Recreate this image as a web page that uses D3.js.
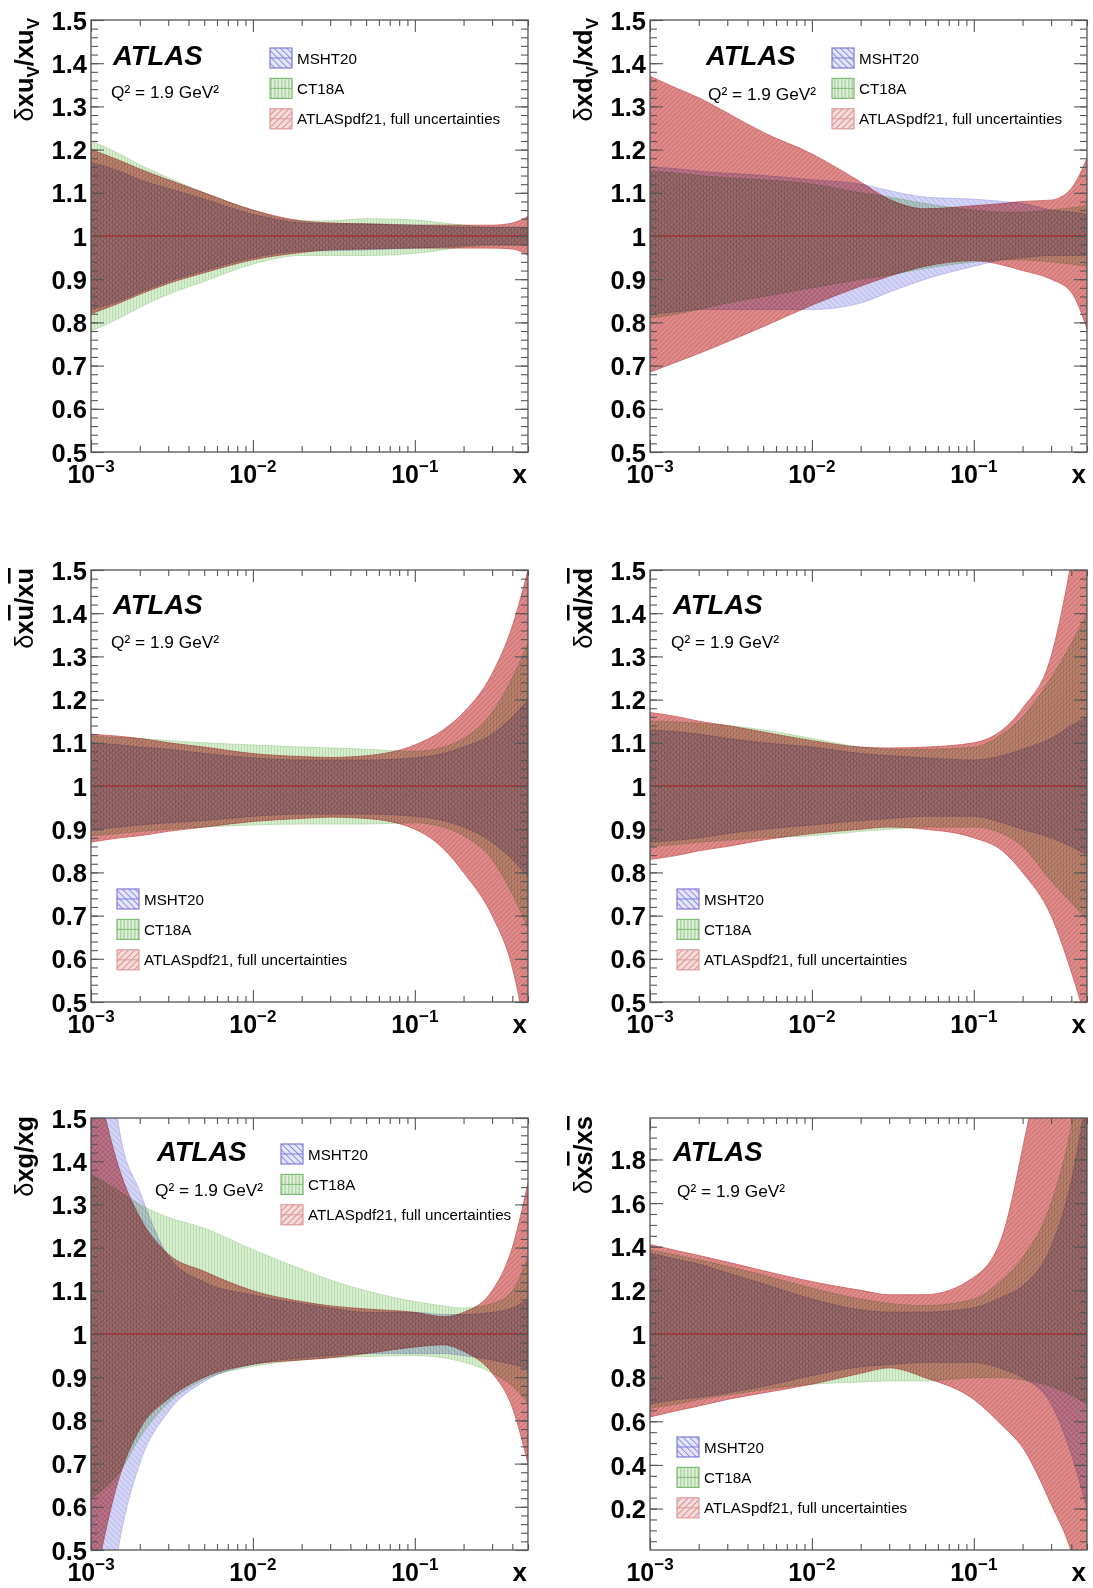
<!DOCTYPE html>
<meta charset="utf-8">
<title>PDF uncertainty comparison</title>
<style>
  body { margin: 0; background: #fff; }
  svg text { font-family: "Liberation Sans", Arial, Helvetica, sans-serif; }
</style>
<div id="viz"></div>
<script src="https://cdnjs.cloudflare.com/ajax/libs/d3/7.8.5/d3.min.js"></script>
<script>

var xs = [0.001, 0.0015, 0.002, 0.003, 0.005, 0.01, 0.02, 0.03, 0.05, 0.1, 0.15, 0.2, 0.3, 0.4, 0.5];

var setNames = ["MSHT20", "CT18A", "ATLASpdf21, full uncertainties"];

// xu_V
var uvMshtHi  = [1.17, 1.15, 1.13, 1.11, 1.085, 1.05, 1.03, 1.028, 1.028, 1.025, 1.022, 1.02, 1.02, 1.02, 1.02];
var uvMshtLo  = [0.83, 0.85, 0.87, 0.895, 0.92, 0.95, 0.965, 0.966, 0.968, 0.972, 0.975, 0.978, 0.98, 0.98, 0.98];
var uvCtHi    = [1.22, 1.19, 1.165, 1.135, 1.10, 1.06, 1.035, 1.035, 1.04, 1.037, 1.03, 1.025, 1.02, 1.02, 1.02];
var uvCtLo    = [0.78, 0.81, 0.835, 0.865, 0.895, 0.935, 0.955, 0.955, 0.955, 0.96, 0.968, 0.975, 0.978, 0.978, 0.978];
var uvAtlasHi = [1.20, 1.175, 1.155, 1.13, 1.10, 1.06, 1.035, 1.03, 1.028, 1.025, 1.025, 1.025, 1.025, 1.03, 1.045];
var uvAtlasLo = [0.82, 0.845, 0.865, 0.89, 0.915, 0.945, 0.962, 0.968, 0.97, 0.972, 0.972, 0.972, 0.972, 0.97, 0.955];

// xd_V
var dvMshtHi  = [1.16, 1.155, 1.15, 1.145, 1.14, 1.13, 1.12, 1.105, 1.09, 1.085, 1.08, 1.075, 1.06, 1.055, 1.05];
var dvMshtLo  = [0.82, 0.825, 0.83, 0.83, 0.83, 0.83, 0.845, 0.87, 0.90, 0.93, 0.945, 0.95, 0.955, 0.955, 0.955];
var dvCtHi    = [1.15, 1.145, 1.14, 1.135, 1.13, 1.12, 1.10, 1.09, 1.075, 1.06, 1.055, 1.055, 1.06, 1.065, 1.07];
var dvCtLo    = [0.81, 0.82, 0.83, 0.845, 0.86, 0.88, 0.90, 0.91, 0.925, 0.94, 0.945, 0.945, 0.94, 0.935, 0.93];
var dvAtlasHi = [1.37, 1.34, 1.32, 1.285, 1.24, 1.19, 1.125, 1.085, 1.063, 1.07, 1.075, 1.08, 1.083, 1.11, 1.18];
var dvAtlasLo = [0.685, 0.71, 0.728, 0.755, 0.79, 0.84, 0.884, 0.907, 0.93, 0.943, 0.933, 0.92, 0.90, 0.87, 0.785];

// x ubar
var ubMshtHi  = [1.10, 1.095, 1.09, 1.085, 1.075, 1.065, 1.06, 1.06, 1.06, 1.065, 1.075, 1.09, 1.12, 1.16, 1.20];
var ubMshtLo  = [0.90, 0.905, 0.91, 0.915, 0.92, 0.93, 0.935, 0.935, 0.935, 0.93, 0.92, 0.905, 0.87, 0.83, 0.79];
var ubCtHi    = [1.115, 1.112, 1.11, 1.105, 1.10, 1.095, 1.09, 1.088, 1.085, 1.08, 1.09, 1.11, 1.17, 1.25, 1.33];
var ubCtLo    = [0.885, 0.89, 0.895, 0.90, 0.905, 0.91, 0.912, 0.912, 0.912, 0.915, 0.905, 0.885, 0.83, 0.75, 0.67];
var ubAtlasHi = [1.12, 1.115, 1.11, 1.10, 1.09, 1.075, 1.068, 1.066, 1.07, 1.095, 1.13, 1.17, 1.26, 1.37, 1.50];
var ubAtlasLo = [0.87, 0.88, 0.885, 0.895, 0.905, 0.918, 0.925, 0.928, 0.925, 0.90, 0.855, 0.80, 0.70, 0.58, 0.40];

// x dbar
var dbMshtHi  = [1.13, 1.125, 1.12, 1.11, 1.10, 1.09, 1.075, 1.07, 1.065, 1.06, 1.07, 1.085, 1.11, 1.14, 1.16];
var dbMshtLo  = [0.87, 0.875, 0.88, 0.89, 0.90, 0.91, 0.92, 0.925, 0.93, 0.93, 0.915, 0.90, 0.88, 0.86, 0.84];
var dbCtHi    = [1.15, 1.148, 1.145, 1.14, 1.13, 1.11, 1.09, 1.085, 1.085, 1.09, 1.12, 1.16, 1.25, 1.33, 1.40];
var dbCtLo    = [0.86, 0.865, 0.87, 0.875, 0.88, 0.885, 0.895, 0.90, 0.905, 0.905, 0.89, 0.86, 0.78, 0.73, 0.69];
var dbAtlasHi = [1.17, 1.16, 1.15, 1.14, 1.125, 1.105, 1.09, 1.088, 1.09, 1.10, 1.13, 1.18, 1.30, 1.52, 1.75];
var dbAtlasLo = [0.83, 0.84, 0.85, 0.86, 0.875, 0.89, 0.90, 0.905, 0.90, 0.88, 0.85, 0.80, 0.70, 0.57, 0.45];

// xg
var gMshtHi  = [2.2, 1.47, 1.33, 1.18, 1.12, 1.09, 1.07, 1.06, 1.05, 1.05, 1.045, 1.045, 1.05, 1.06, 1.08];
var gMshtLo  = [0.0, 0.52, 0.70, 0.82, 0.89, 0.93, 0.945, 0.95, 0.955, 0.955, 0.955, 0.95, 0.94, 0.93, 0.92];
var gCtHi    = [1.37, 1.33, 1.30, 1.27, 1.245, 1.195, 1.15, 1.125, 1.10, 1.075, 1.065, 1.06, 1.07, 1.10, 1.18];
var gCtLo    = [0.62, 0.68, 0.76, 0.84, 0.895, 0.925, 0.94, 0.945, 0.948, 0.95, 0.945, 0.935, 0.91, 0.88, 0.84];
var gAtlasHi = [1.65, 1.38, 1.27, 1.185, 1.145, 1.10, 1.075, 1.065, 1.058, 1.05, 1.04, 1.05, 1.10, 1.20, 1.35];
var gAtlasLo = [0.38, 0.67, 0.78, 0.85, 0.90, 0.93, 0.94, 0.945, 0.955, 0.97, 0.975, 0.96, 0.91, 0.83, 0.70];

// x sbar
var sbMshtHi  = [1.37, 1.34, 1.32, 1.28, 1.23, 1.16, 1.11, 1.10, 1.10, 1.12, 1.17, 1.22, 1.40, 1.70, 2.10];
var sbMshtLo  = [0.68, 0.70, 0.71, 0.73, 0.76, 0.81, 0.85, 0.86, 0.87, 0.87, 0.84, 0.80, 0.68, 0.45, 0.20];
var sbCtHi    = [1.385, 1.36, 1.34, 1.31, 1.27, 1.21, 1.16, 1.14, 1.13, 1.16, 1.25, 1.35, 1.60, 1.95, 2.40];
var sbCtLo    = [0.66, 0.68, 0.70, 0.72, 0.745, 0.77, 0.78, 0.785, 0.785, 0.80, 0.80, 0.79, 0.76, 0.72, 0.68];
var sbAtlasHi = [1.41, 1.38, 1.36, 1.33, 1.29, 1.24, 1.20, 1.18, 1.18, 1.26, 1.45, 1.85, 2.60, 3.50, 4.50];
var sbAtlasLo = [0.62, 0.65, 0.67, 0.70, 0.73, 0.77, 0.82, 0.845, 0.80, 0.70, 0.58, 0.48, 0.22, 0.0, -0.3];

var ticks01 = [0.5, 0.6, 0.7, 0.8, 0.9, 1.0, 1.1, 1.2, 1.3, 1.4, 1.5];
var ticksS = [0.2, 0.4, 0.6, 0.8, 1.0, 1.2, 1.4, 1.6, 1.8];
var xMajor = [0.001, 0.01, 0.1];

var width = 1093, height = 1588;
var pw = 437, ph = 432;

var svg = d3.select("#viz").append("svg")
    .attr("width", width)
    .attr("height", height);
var defs = svg.append("defs");

function hatch(id, base, line, angle, gap, lw) {
  var p = defs.append("pattern").attr("id", id)
      .attr("patternUnits", "userSpaceOnUse")
      .attr("width", gap).attr("height", gap)
      .attr("patternTransform", "rotate(" + angle + ")");
  p.append("rect").attr("width", gap).attr("height", gap).attr("fill", base);
  p.append("line").attr("x1", gap / 2).attr("x2", gap / 2)
      .attr("y1", -1).attr("y2", gap + 1)
      .attr("stroke", line).attr("stroke-width", lw);
}
hatch("pat-msht", "#d7d7f7", "#b4b4ec", -45, 4, 1);
hatch("pat-ct", "#d8eed1", "#b8dcae", 0, 3, 1);
hatch("pat-atlas", "#e28e8e", "#c96a6a", 45, 3.5, 1);
hatch("leg-msht", "#e6e6fa", "#8a8ade", -45, 4.5, 1);
hatch("leg-ct", "#e2f1dd", "#8cc283", 0, 3.5, 1);
hatch("leg-atlas", "#f5dcdc", "#d88e8e", 45, 4.5, 1);

var bandStyle = [
  {pat: "pat-msht", leg: "leg-msht", edge: "#b0b0ea", legEdge: "#7c7cd8"},
  {pat: "pat-ct", leg: "leg-ct", edge: "#b2d8a9", legEdge: "#7fbb76"},
  {pat: "pat-atlas", leg: "leg-atlas", edge: "#c95c5c", legEdge: "#dc9a9a"}
];

var panels = [
  {id: 0, left: 91, top: 20, ydom: [0.5, 1.5], major: ticks01, minorStep: 0.02,
   title: [["δ", "d"], ["xu", "n"], ["V", "sub"], ["/xu", "n"], ["V", "sub"]],
   bands: [[uvMshtLo, uvMshtHi], [uvCtLo, uvCtHi], [uvAtlasLo, uvAtlasHi]],
   atlas: [113, 65], q2: [111, 98], legend: [270, 58]},
  {id: 1, left: 650, top: 20, ydom: [0.5, 1.5], major: ticks01, minorStep: 0.02,
   title: [["δ", "d"], ["xd", "n"], ["V", "sub"], ["/xd", "n"], ["V", "sub"]],
   bands: [[dvMshtLo, dvMshtHi], [dvCtLo, dvCtHi], [dvAtlasLo, dvAtlasHi]],
   atlas: [706, 65], q2: [708, 100], legend: [832, 58]},
  {id: 2, left: 91, top: 570, ydom: [0.5, 1.5], major: ticks01, minorStep: 0.02,
   title: [["δ", "d"], ["x", "n"], ["u", "bar"], ["/x", "n"], ["u", "bar"]],
   bands: [[ubMshtLo, ubMshtHi], [ubCtLo, ubCtHi], [ubAtlasLo, ubAtlasHi]],
   atlas: [113, 614], q2: [111, 648], legend: [117, 899]},
  {id: 3, left: 650, top: 570, ydom: [0.5, 1.5], major: ticks01, minorStep: 0.02,
   title: [["δ", "d"], ["x", "n"], ["d", "bar"], ["/x", "n"], ["d", "bar"]],
   bands: [[dbMshtLo, dbMshtHi], [dbCtLo, dbCtHi], [dbAtlasLo, dbAtlasHi]],
   atlas: [673, 614], q2: [671, 648], legend: [677, 899]},
  {id: 4, left: 91, top: 1118, ydom: [0.5, 1.5], major: ticks01, minorStep: 0.02,
   title: [["δ", "d"], ["xg/xg", "n"]],
   bands: [[gMshtLo, gMshtHi], [gCtLo, gCtHi], [gAtlasLo, gAtlasHi]],
   atlas: [157, 1161], q2: [155, 1196], legend: [281, 1154]},
  {id: 5, left: 650, top: 1118, ydom: [0.01, 1.99], major: ticksS, minorStep: 0.05,
   title: [["δ", "d"], ["x", "n"], ["s", "bar"], ["/x", "n"], ["s", "bar"]],
   bands: [[sbMshtLo, sbMshtHi], [sbCtLo, sbCtHi], [sbAtlasLo, sbAtlasHi]],
   atlas: [673, 1161], q2: [677, 1197], legend: [677, 1447]}
];

var axisColor = "#555";

function styleAxis(g) {
  g.select(".domain").remove();
  g.selectAll(".tick line").attr("stroke", axisColor).attr("stroke-width", 1.1);
}

function drawPanel(p) {
  var x = d3.scaleLog().domain([0.001, 0.5]).range([p.left, p.left + pw]);
  var y = d3.scaleLinear().domain(p.ydom).range([p.top + ph, p.top]);
  var g = svg.append("g");

  defs.append("clipPath").attr("id", "clip" + p.id)
    .append("rect").attr("x", p.left).attr("y", p.top).attr("width", pw).attr("height", ph);

  var bands = g.append("g").attr("clip-path", "url(#clip" + p.id + ")")
    .append("g").style("isolation", "isolate");

  p.bands.forEach(function(b, k) {
    var lo = b[0], hi = b[1];
    var area = d3.area()
        .x(function(d, i) { return x(xs[i]); })
        .y0(function(d, i) { return y(lo[i]); })
        .y1(function(d, i) { return y(hi[i]); })
        .curve(d3.curveMonotoneX);
    bands.append("path").datum(xs)
      .attr("d", area)
      .attr("fill", "url(#" + bandStyle[k].pat + ")")
      .attr("stroke", bandStyle[k].edge)
      .attr("stroke-width", 0.8)
      .style("mix-blend-mode", "multiply");
  });

  // reference line at 1
  g.append("line")
    .attr("x1", p.left).attr("x2", p.left + pw)
    .attr("y1", y(1)).attr("y2", y(1))
    .attr("stroke", "#b01818").attr("stroke-width", 1.1);

  // frame
  g.append("rect").attr("x", p.left).attr("y", p.top).attr("width", pw).attr("height", ph)
    .attr("fill", "none").attr("stroke", axisColor).attr("stroke-width", 1.3);

  // x ticks
  var xMinor = [];
  xMajor.forEach(function(dec) {
    for (var k = 2; k <= 9; k++) { if (k * dec <= 0.5) xMinor.push(k * dec); }
  });
  var bottom = y.range()[0], top = p.top;
  [[d3.axisBottom, bottom], [d3.axisTop, top]].forEach(function(a) {
    g.append("g").attr("transform", "translate(0," + a[1] + ")")
      .call(a[0](x).tickValues(xMinor).tickSize(-6).tickSizeOuter(0).tickFormat(""))
      .call(styleAxis);
    g.append("g").attr("transform", "translate(0," + a[1] + ")")
      .call(a[0](x).tickValues(xMajor).tickSize(-12).tickSizeOuter(0).tickFormat(""))
      .call(styleAxis);
  });

  // x labels 10^n
  xMajor.forEach(function(v) {
    var t = g.append("text")
      .attr("x", x(v)).attr("y", bottom + 31)
      .attr("text-anchor", "middle")
      .attr("font-size", 25).attr("font-weight", "bold");
    t.append("tspan").text("10");
    t.append("tspan").attr("dy", -11).attr("font-size", 17).text("−" + Math.round(-Math.log10(v)));
  });
  g.append("text").attr("x", p.left + pw - 1).attr("y", bottom + 31)
    .attr("text-anchor", "end").attr("font-size", 26).attr("font-weight", "bold").text("x");

  // y ticks
  var yMinor = d3.range(Math.ceil(p.ydom[0] / p.minorStep - 1e-6), Math.floor(p.ydom[1] / p.minorStep + 1e-6) + 1)
      .map(function(k) { return +(k * p.minorStep).toFixed(3); });
  [[d3.axisLeft, p.left], [d3.axisRight, p.left + pw]].forEach(function(a, side) {
    g.append("g").attr("transform", "translate(" + a[1] + ",0)")
      .call(a[0](y).tickValues(yMinor).tickSize(-7).tickSizeOuter(0).tickFormat(""))
      .call(styleAxis);
    var ax = g.append("g").attr("transform", "translate(" + a[1] + ",0)")
      .call(a[0](y).tickValues(p.major).tickSize(-13).tickSizeOuter(0).tickPadding(4)
        .tickFormat(side === 0 ? function(d) { return String(+d.toFixed(1)); } : ""))
      .call(styleAxis);
    ax.attr("font-family", null).attr("font-size", null);
    ax.selectAll(".tick text").attr("font-size", 25.5).attr("font-weight", "bold")
      .attr("fill", "#000").attr("dy", "0.36em");
  });

  // y title
  var tt = g.append("text")
    .attr("transform", "translate(" + (p.left - 58) + "," + (p.top - 2) + ") rotate(-90)")
    .attr("text-anchor", "end").attr("font-size", 25.5).attr("font-weight", "bold");
  var shift = 0;
  p.title.forEach(function(part) {
    var s = tt.append("tspan").text(part[0]);
    if (part[1] === "d") s.attr("font-weight", "normal");
    if (part[1] === "sub") { s.attr("dy", 6).attr("font-size", 17); shift = 6; }
    else if (shift) { s.attr("dy", -shift); shift = 0; }
    if (part[1] === "bar") s.style("text-decoration", "overline");
  });

  // ATLAS + Q2
  g.append("text").attr("x", p.atlas[0]).attr("y", p.atlas[1])
    .attr("font-size", 27.5).attr("font-weight", "bold").attr("font-style", "italic").text("ATLAS");
  g.append("text").attr("x", p.q2[0]).attr("y", p.q2[1])
    .attr("font-size", 17.3).text("Q² = 1.9 GeV²");

  // legend
  setNames.forEach(function(name, k) {
    var cy = p.legend[1] + k * 30.4;
    var lx = p.legend[0];
    g.append("rect").attr("x", lx).attr("y", cy - 10).attr("width", 22).attr("height", 20)
      .attr("fill", "url(#" + bandStyle[k].leg + ")")
      .attr("stroke", bandStyle[k].legEdge).attr("stroke-width", 1.2);
    g.append("line").attr("x1", lx).attr("x2", lx + 22).attr("y1", cy).attr("y2", cy)
      .attr("stroke", bandStyle[k].legEdge).attr("stroke-width", 1);
    g.append("text").attr("x", lx + 27).attr("y", cy + 5.5)
      .attr("font-size", 15.2).text(name);
  });
}

panels.forEach(drawPanel);

</script>
